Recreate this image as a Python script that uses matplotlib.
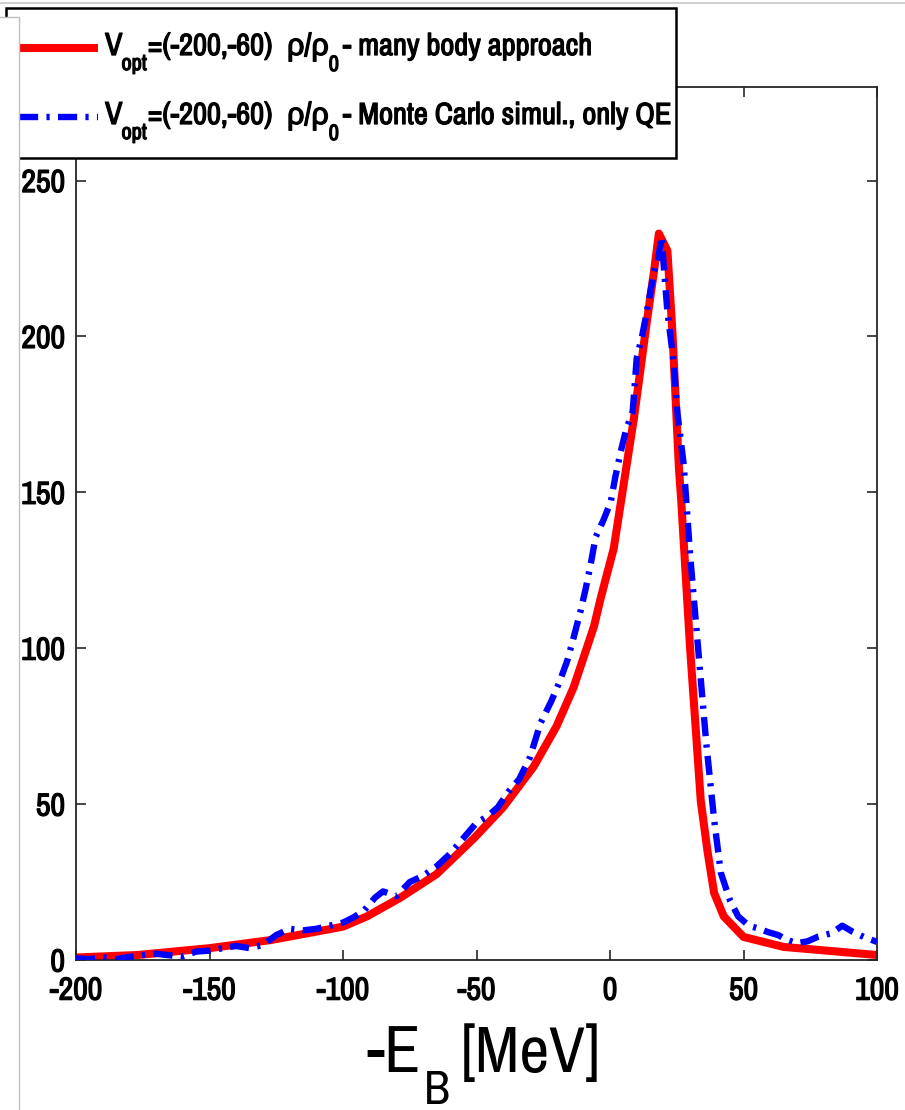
import matplotlib
matplotlib.use("Agg")
import matplotlib.pyplot as plt
import matplotlib.patheffects as pe
from matplotlib import font_manager
from matplotlib.lines import Line2D
from matplotlib.patches import Rectangle

# ---------------- data ----------------
x_many_body = [-200, -177, -150, -127, -100, -91, -78.5, -65, -51, -40, -28.6, -20, -13.6, -6, -3.5,
               1.4, 9, 14, 16.5, 18.3, 21.5, 23.4, 24.6, 25.8, 26.7, 30, 34, 36.5, 39, 42.6,
               50, 65, 100]
y_many_body = [0.8, 1.6, 3.8, 6.4, 10.7, 14, 20, 27.5, 39, 49, 62, 75, 87.5, 107, 116,
               132, 174, 206, 221, 233, 227.5, 201, 179.5, 158, 147, 100, 51, 35, 21.5, 14,
               7.4, 4.2, 1.6]

x_monte_carlo = [-200, -195, -190, -185, -180, -175, -170, -165, -160, -155, -150, -145, -140,
                 -135, -130, -125, -120, -115, -110, -105, -100, -96, -92, -88, -85, -80, -75,
                 -70, -65, -60, -55, -50, -46, -42, -38, -34, -30, -26, -22, -19, -16, -13.6,
                 -11, -9, -7, -5.4, -2.5, 0.3, 2, 4, 6, 8.5, 10, 12, 13.8, 15.5, 17, 17.8,
                 19.4, 20, 21.5, 23.8, 25.3, 27.6, 30, 33, 36, 39, 41.5, 45, 48, 52, 56, 59,
                 63, 66, 70, 74, 78, 83, 87, 91, 95, 100]
y_monte_carlo = [0.5, 0.3, 0.8, 0.3, 1.0, 1.6, 2.0, 1.5, 1.2, 2.7, 3.0, 3.8, 4.5,
                 3.8, 4.8, 8.0, 10.0, 9.5, 10.0, 11.0, 12.0, 13.7, 16.0, 20.0, 22.0, 20.5, 25.0,
                 27.0, 30.0, 34.0, 39.0, 44.0, 46.0, 49.0, 54.0, 58.0, 65.0, 76.0, 83.0, 89.0, 96.0, 103.5,
                 112.0, 119.5, 128.0, 135.6, 141.0, 147.0, 155, 163, 170, 176, 193, 200, 208, 216, 223, 224,
                 232, 224, 208, 192, 175, 159, 130, 100, 70, 45, 28, 19, 14, 11, 10, 9,
                 8, 6.5, 5.4, 6.0, 7.5, 8.6, 11.0, 9.0, 7.4, 5.8]

x_ticks = [-200, -150, -100, -50, 0, 50, 100]
y_ticks = [0, 50, 100, 150, 200, 250]
legend_prefix = "=(-200,-60)"
legend_many_body = "- many body approach"
legend_monte_carlo = "- Monte Carlo simul., only QE"

# ---------------- fonts ----------------
names = {f.name for f in font_manager.fontManager.ttflist}
FONT = "Liberation Sans"
for cand in ["Archivo Narrow", "Liberation Sans Narrow", "Roboto Condensed", "PT Sans Narrow"]:
    if cand in names:
        FONT = cand
        break
FAMILY = [FONT, "Liberation Sans", "DejaVu Sans"]
plt.rcParams["font.family"] = FAMILY

BOLDEN = [pe.withStroke(linewidth=0.9, foreground="black")]

W, H = 905, 1110
fig = plt.figure(figsize=(W / 100, H / 100), dpi=100)


def fx(px):
    return px / W


def fy(py):
    return 1 - py / H


ax_l, ax_r, ax_t, ax_b = 76, 877, 87, 960
ax = fig.add_axes([fx(ax_l), fy(ax_b), fx(ax_r) - fx(ax_l), fy(ax_t) - fy(ax_b)])

dash = (0, (3.0, 1.3, 0.5, 1.3))
ax.plot(x_many_body, y_many_body, color="#ff0000", lw=5.8, solid_joinstyle="round", zorder=2)
ax.plot(x_monte_carlo, y_monte_carlo, color="#0000ff", lw=4.6,
        linestyle=dash, dash_capstyle="butt", zorder=3)

ax.set_xlim(-200, 100)
ax.set_ylim(0, 280)
ax.set_xticks(x_ticks)
ax.set_yticks(y_ticks)
ax.set_xticklabels([str(v) for v in x_ticks])
ax.set_yticklabels([str(v) for v in y_ticks])
ax.tick_params(axis="both", direction="in", length=7, width=1.2, color="#262626",
               top=True, right=True, labelsize=23)
ax.tick_params(axis="x", pad=12)
ax.tick_params(axis="y", pad=8)
for lab in ax.get_xticklabels() + ax.get_yticklabels():
    lab.set_path_effects(BOLDEN)
for sp in ax.spines.values():
    sp.set_linewidth(1.3)
    sp.set_color("#262626")

# x label
fig.text(fx(421), fy(1072), "-E", fontsize=48, ha="right", va="baseline")
fig.text(fx(424), fy(1104), "B", fontsize=34, ha="left", va="baseline")
fig.text(fx(461), fy(1072), "[MeV]", fontsize=47, ha="left", va="baseline")

# legend (manual)
fig.add_artist(Rectangle((fx(6), fy(158)), fx(676) - fx(6), fy(8) - fy(158),
                         transform=fig.transFigure, facecolor="white", edgecolor="black",
                         lw=1.8, zorder=5))
fig.add_artist(Line2D([fx(19), fx(98)], [fy(48), fy(48)], transform=fig.transFigure,
                      color="#ff0000", lw=5.8, solid_capstyle="butt", zorder=6))
fig.add_artist(Line2D([fx(19), fx(98)], [fy(117), fy(117)], transform=fig.transFigure,
                      color="#0000ff", lw=4.6, linestyle=dash,
                      dash_capstyle="butt", zorder=6))

renderer = fig.canvas.get_renderer()


def put(x, base, s, size):
    t = fig.text(fx(x), fy(base), s, fontsize=size, ha="left", va="baseline",
                 family=FAMILY, zorder=6, path_effects=BOLDEN)
    bb = t.get_window_extent(renderer)
    return bb.x1


def legend_row(base, tail):
    x = put(105, base, "V", 23)
    x = put(x - 1, base + 15, "opt", 16)
    x = put(x + 1, base, legend_prefix, 22)
    x = put(x + 14, base, "ρ/ρ", 22)
    x = put(x, base + 16, "0", 16)
    put(x + 4, base, tail, 22)


legend_row(55, legend_many_body)
legend_row(124, legend_monte_carlo)

# screenshot frame artefacts
fig.add_artist(Line2D([0, 1], [fy(3), fy(3)], transform=fig.transFigure, color="#c8c8c8", lw=1.2, zorder=7))
fig.add_artist(Rectangle((fx(-10), fy(1120)), fx(19) - fx(-10), fy(17) - fy(1120),
                         transform=fig.transFigure, facecolor="white", edgecolor="#c0c0c0",
                         lw=1.0, zorder=8))

fig.savefig("out.png", dpi=100)
